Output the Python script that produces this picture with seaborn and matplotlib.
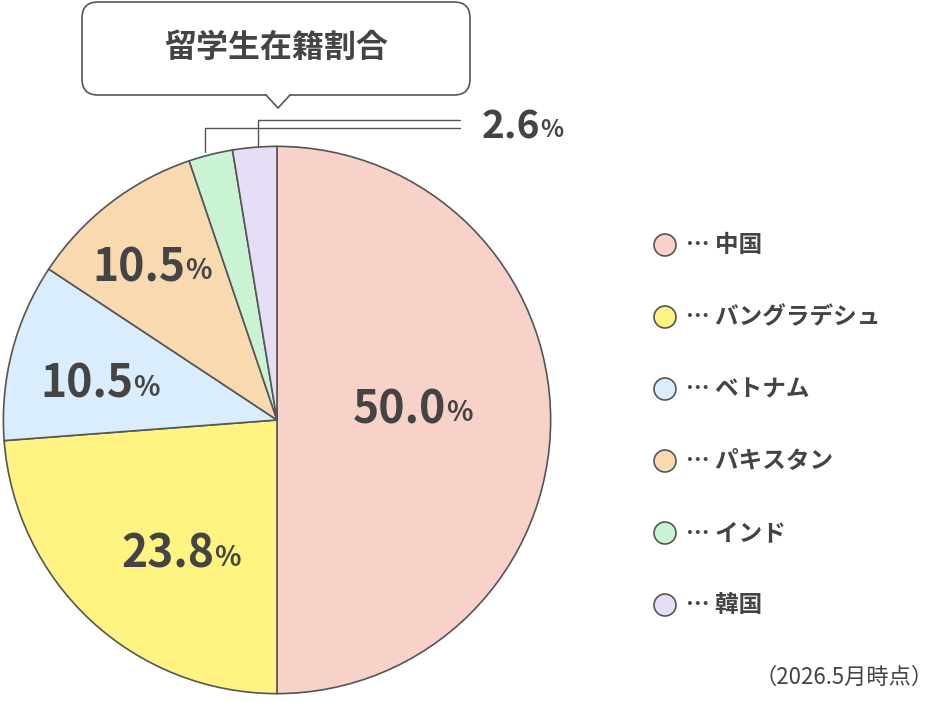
"""Pie chart of international student nationalities."""

import matplotlib
matplotlib.use("Agg")
import seaborn as sns
from matplotlib import pyplot as plt
from matplotlib.patches import FancyBboxPatch, Polygon, Circle

countries = ["中国", "バングラデシュ", "ベトナム", "パキスタン", "インド", "韓国"]
shares = [50.0, 23.8, 10.5, 10.5, 2.6, 2.6]
colors = ["#F8D1C8", "#FFF482", "#D9EDFC", "#F9D9AF", "#C9F3D3", "#E6DEF6"]
pie_labels = ["50.0", "23.8", "10.5", "10.5"]
label_pos = [(446, 410), (214, 555), (133, 385), (185, 268)]

sns.set_theme(style="white")
plt.rcParams["font.family"] = ["Noto Sans CJK JP", "DejaVu Sans"]
TXT = "#444444"
EDGE = "#555555"

W, H = 936, 702
fig = plt.figure(figsize=(W / 100, H / 100), dpi=100)

# pie axes: centre (277, 420), radius 275 px
cx, cy, r = 277, 420, 275
pie_ax = fig.add_axes([(cx - r) / W, (H - cy - r) / H, 2 * r / W, 2 * r / H])
pie_ax.pie(shares, colors=colors, startangle=90, counterclock=False,
           wedgeprops={"edgecolor": EDGE, "linewidth": 1.2})
pie_ax.set_xlim(-1.005, 1.005)
pie_ax.set_ylim(-1.005, 1.005)
pie_ax.axis("off")

# overlay in pixel coordinates
ov = fig.add_axes([0, 0, 1, 1], zorder=5)
ov.set_xlim(0, W)
ov.set_ylim(H, 0)
ov.axis("off")
ov.patch.set_alpha(0)


def pct(x, y, num, size=32):
    ov.text(x, y, num, fontsize=size, fontweight="bold", color=TXT,
            ha="right", va="center")
    ov.text(x, y + 3, "%", fontsize=size * 0.62, fontweight="bold",
            color=TXT, ha="left", va="center")


for num, (x, y) in zip(pie_labels, label_pos):
    pct(x, y, num)

# callout box
ov.add_patch(FancyBboxPatch((82, 2), 388, 93, boxstyle="round,pad=0,rounding_size=16",
                            facecolor="white", edgecolor=EDGE, linewidth=1.2))
ov.add_patch(Polygon([(266, 94), (290, 94), (278, 108)], closed=True,
                     facecolor="white", edgecolor="none", zorder=6))
ov.plot([266, 278, 290], [95, 108, 95], color=EDGE, linewidth=1.2, zorder=7)
ov.text(276, 48, "留学生在籍割合", fontsize=23, fontweight="bold", color=TXT,
        ha="center", va="center")

# leader lines to small slices
ov.plot([205, 205, 460], [152, 128, 128], color=EDGE, linewidth=1)
ov.plot([258, 258, 460], [146, 120, 120], color=EDGE, linewidth=1)
pct(540, 127, "2.6", size=28)

# legend
for i, (name, c) in enumerate(zip(countries, colors)):
    y = 245 + i * 72
    ov.add_patch(Circle((665, y), 11, facecolor=c, edgecolor=EDGE, linewidth=1.2))
    ov.text(686, y, "… " + name, fontsize=17, fontweight="bold", color=TXT,
            ha="left", va="center")

ov.text(934, 677, "（2026.5月時点）", fontsize=16, color=TXT, ha="right", va="center")

fig.savefig("out.png", dpi=100)
